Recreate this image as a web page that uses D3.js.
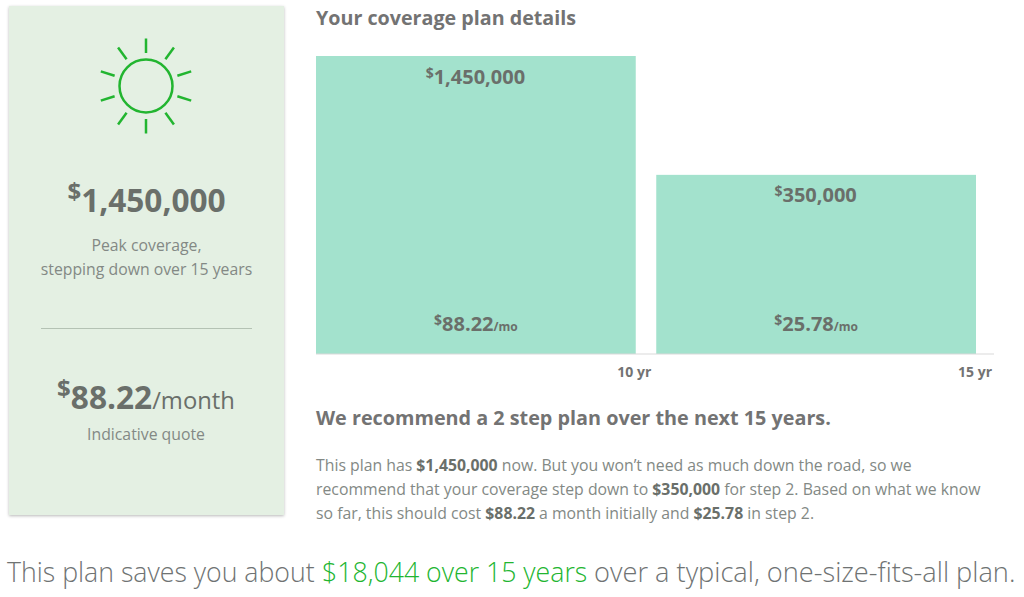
<!DOCTYPE html>
<html><head><meta charset="utf-8">
<script src="https://cdn.jsdelivr.net/npm/d3@7/dist/d3.min.js"></script>
<style>
html,body{margin:0;padding:0;background:#fff}
svg{display:block}
text{font-family:"Open Sans",sans-serif}
</style></head><body><svg id="c" width="1024" height="597"></svg>
<script>
const steps = ["10 yr","15 yr"];
const coverage = [1450000,350000];
const premiums = [88.22,25.78];
const title = "Your coverage plan details";
const headline = "We recommend a 2 step plan over the next 15 years.";
const paragraph = [
 [["This plan has ",0],["$1,450,000",1],[" now. But you won\u2019t need as much down the road, so we",0]],
 [["recommend that your coverage step down to ",0],["$350,000",1],[" for step 2. Based on what we know",0]],
 [["so far, this should cost ",0],["$88.22",1],[" a month initially and ",0],["$25.78",1],[" in step 2.",0]]
];
const footerParts = ["This plan saves you about ","$18,044 over 15 years"," over a typical, one-size-fits-all plan."];
const peakLines = ["Peak coverage,","stepping down over 15 years"];
const dark="#6a6f6a", mid="#838985", green="#22b530", bar="#a3e2cd";

const svg=d3.select("#c");
const defs=svg.append("defs");
const f=defs.append("filter").attr("id","sh").attr("x","-5%").attr("y","-5%").attr("width","110%").attr("height","110%");
f.append("feDropShadow").attr("dx",0).attr("dy",1).attr("stdDeviation",1.5).attr("flood-color","#000").attr("flood-opacity",.28);

// left card
svg.append("rect").attr("x",9).attr("y",6).attr("width",275).attr("height",509).attr("fill","#e4f0e3").attr("filter","url(#sh)");

// sun
const sx=146, sy=86;
const sun=svg.append("g").attr("transform",`translate(${sx},${sy})`).attr("stroke",green).attr("fill","none").attr("stroke-width",2.5);
sun.append("circle").attr("r",26.5);
const rayAngles=d3.range(10).map(i=>i*36);
sun.selectAll("line").data(rayAngles).join("line")
 .attr("y1",-33).attr("y2",-47.5).attr("transform",d=>`rotate(${d})`);

function money(g,x,y,sym,val,symSize,valSize,rise,suffix,sufSize,anchor,sufWeight){
  const t=g.append("text").attr("x",x).attr("y",y).attr("text-anchor",anchor||"middle").attr("fill",dark);
  t.append("tspan").attr("font-size",symSize).attr("font-weight",700).attr("dy",-rise).text(sym);
  t.append("tspan").attr("font-size",valSize).attr("font-weight",700).attr("dy",rise).text(val);
  if(suffix) t.append("tspan").attr("font-size",sufSize).attr("font-weight",sufWeight||400).text(suffix);
  return t;
}
const fmtM=d3.format(",");
money(svg,146.5,211.5,"$",fmtM(coverage[0]),24,31.6,12);
svg.append("g").selectAll("text").data(peakLines).join("text")
  .attr("x",146.5).attr("y",(d,i)=>251+i*24).attr("text-anchor","middle").attr("font-size",15.8).attr("fill",mid).text(d=>d);
svg.append("line").attr("x1",41).attr("x2",252).attr("y1",328.5).attr("y2",328.5).attr("stroke","#b4c2b4").attr("stroke-width",1);
money(svg,146,408.5,"$",premiums[0].toFixed(2),24,31.6,12,"/month",23.8,"middle");
svg.append("text").attr("x",146).attr("y",440).attr("text-anchor","middle").attr("font-size",15.8).attr("fill",mid).text("Indicative quote");

// chart
svg.append("text").attr("x",316).attr("y",25).attr("font-size",19.7).attr("font-weight",700).attr("fill","#737373").text(title);
const x=d3.scaleBand().domain(steps).range([316,976]).paddingInner(20.5/340).paddingOuter(0);
const y=d3.scalePow().exponent(0.358).domain([0,1450000]).range([354,56]);
svg.append("g").selectAll("rect").data(steps).join("rect")
  .attr("x",d=>x(d)).attr("width",x.bandwidth())
  .attr("y",(d,i)=>y(coverage[i])).attr("height",(d,i)=>y(0)-y(coverage[i])).attr("fill",bar);
svg.append("line").attr("x1",316).attr("x2",994).attr("y1",354).attr("y2",354).attr("stroke","#d9d9d9").attr("stroke-width",1);
svg.append("g").selectAll("text").data(steps).join("text")
  .attr("x",(d,i)=>x(d)+x.bandwidth()+(i?16:15.5)).attr("y",377).attr("text-anchor","end")
  .attr("font-size",14).attr("font-weight",700).attr("fill","#737373").text(d=>d);
const labG=svg.append("g");
steps.forEach((d,i)=>{
  const cx=x(d)+x.bandwidth()/2;
  money(labG,cx-0.5,y(coverage[i])+27.5,"$",fmtM(coverage[i]),14,20,6);
  money(labG,cx,331,"$",premiums[i].toFixed(2),14,20,6,"/mo",12,"middle",700);
});

// text block
svg.append("text").attr("x",316).attr("y",425).attr("font-size",19.8).attr("font-weight",700).attr("fill","#737373").text(headline);
const para=svg.append("g").selectAll("text").data(paragraph).join("text")
  .attr("x",316).attr("y",(d,i)=>470.5+i*24).attr("font-size",15.8).attr("fill",mid);
para.selectAll("tspan").data(d=>d).join("tspan")
  .attr("font-weight",d=>d[1]?700:400).attr("fill",d=>d[1]?dark:mid).text(d=>d[0]);

// footer
const ft=svg.append("text").attr("y",582).attr("font-weight",300).attr("xml:space","preserve").style("white-space","pre");
ft.selectAll("tspan").data(footerParts).join("tspan")
  .attr("x",(d,i)=>[7,322,587][i]).attr("font-size",(d,i)=>i==2?27.2:26.7)
  .attr("fill",(d,i)=>i==1?green:"#6f7373").text(d=>d);
</script></body></html>
